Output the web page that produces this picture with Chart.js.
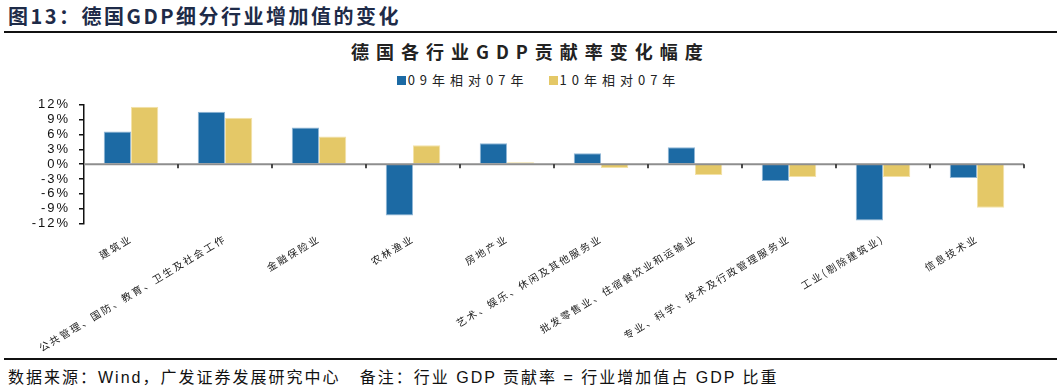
<!DOCTYPE html>
<html>
<head>
<meta charset="utf-8">
<script src="https://cdn.jsdelivr.net/npm/chart.js@4"></script>
<style>
  html, body { margin: 0; padding: 0; background: #fff; }
  body { width: 1061px; height: 392px; position: relative; overflow: hidden; font-family: "Noto Sans CJK SC", "Liberation Sans", sans-serif; }
  #head { position: absolute; left: 8px; top: 1px; font-size: 20px; font-weight: bold; color: #1e2b48; letter-spacing: 2.5px; white-space: nowrap; }
  .rule { position: absolute; left: 4px; width: 1053px; height: 2px; background: #111; }
  #chartTitle { position: absolute; left: 0; width: 1061px; top: 38px; text-align: center; font-size: 18px; font-weight: bold; color: #222; letter-spacing: 7px; white-space: nowrap; }
  #legend { position: absolute; left: 8px; width: 1061px; top: 70px; text-align: center; font-size: 13px; color: #222; letter-spacing: 5px; white-space: nowrap; }
  #legend span.item { display: inline-block; margin: 0 10px; }
  #legend i { display: inline-block; width: 9px; height: 9px; margin-right: 2px; vertical-align: 0px; }
  #box { position: absolute; left: 0; top: 88px; width: 1061px; height: 267px; }
  #foot { position: absolute; left: 8px; top: 364px; font-size: 16px; color: #111; letter-spacing: 2px; white-space: nowrap; font-family: "Liberation Sans", "Noto Sans CJK SC", sans-serif; }
</style>
</head>
<body>
<div id="head">图13：德国GDP细分行业增加值的变化</div>
<div class="rule" style="top:31px"></div>
<div id="chartTitle">德国各行业GDP贡献率变化幅度</div>
<div id="legend"></div>
<div id="box"><canvas id="chart"></canvas></div>
<div class="rule" style="top:358px"></div>
<div id="foot">数据来源：Wind，广发证券发展研究中心&nbsp;&nbsp;&nbsp;备注：行业 GDP 贡献率 = 行业增加值占 GDP 比重</div>
<script>
const categories = [
  '建筑业',
  '公共管理、国防、教育、卫生及社会工作',
  '金融保险业',
  '农林渔业',
  '房地产业',
  '艺术、娱乐、休闲及其他服务业',
  '批发零售业、住宿餐饮业和运输业',
  '专业、科学、技术及行政管理服务业',
  '工业(剔除建筑业)',
  '信息技术业'
];
const seriesNames = ['09年相对07年', '10年相对07年'];
const series09 = [6.6, 10.6, 7.4, -10.4, 4.2, 2.2, 3.4, -3.4, -11.4, -2.8];
const series10 = [11.6, 9.4, 5.6, 3.8, 0.4, -0.8, -2.2, -2.6, -2.6, -8.8];
const yTicks = [-12, -9, -6, -3, 0, 3, 6, 9, 12];
const colors = ['#1c6aa4', '#e4c867'];

// html legend (wide letter spacing like the source)
document.getElementById('legend').innerHTML = seriesNames.map((n, i) =>
  `<span class="item"><i style="background:${colors[i]}"></i>${n}</span>`).join('');

const spacing = {
  id: 'spacing',
  beforeLayout(c) { c.ctx.letterSpacing = '2px'; },
  beforeDraw(c) { c.ctx.letterSpacing = '2px'; }
};

// zero line with small ticks at the category boundaries
const zeroLine = {
  id: 'zeroLine',
  afterDatasetsDraw(c) {
    const { ctx, scales: { x, y } } = c;
    const y0 = y.getPixelForValue(0);
    const step = (x.right - x.left) / categories.length;
    ctx.save();
    ctx.strokeStyle = '#8e8e8e';
    ctx.lineWidth = 2;
    ctx.beginPath();
    ctx.moveTo(x.left, y0);
    ctx.lineTo(x.right, y0);
    ctx.stroke();
    ctx.strokeStyle = '#111';
    ctx.lineWidth = 1.5;
    for (let i = 0; i < categories.length; i++) {
      const px = x.getPixelForValue(i) + step / 2;
      ctx.beginPath();
      ctx.moveTo(px, y0);
      ctx.lineTo(px, y0 + 4);
      ctx.stroke();
    }
    ctx.restore();
  }
};

new Chart(document.getElementById('chart'), {
  type: 'bar',
  data: {
    labels: categories,
    datasets: [
      { label: seriesNames[0], data: series09, backgroundColor: colors[0], borderColor: '#8fb6d6', borderWidth: 1 },
      { label: seriesNames[1], data: series10, backgroundColor: colors[1], borderColor: '#f3e2a8', borderWidth: 1 }
    ]
  },
  options: {
    responsive: true,
    maintainAspectRatio: false,
    animation: false,
    categoryPercentage: 0.58,
    barPercentage: 1,
    layout: { padding: { left: 0, right: 37, top: 0, bottom: 0 } },
    plugins: {
      legend: { display: false },
      title: { display: false },
      tooltip: { enabled: false }
    },
    scales: {
      x: {
        grid: { display: false },
        border: { display: false },
        ticks: {
          autoSkip: false,
          minRotation: 31,
          maxRotation: 31,
          padding: 1,
          color: '#222',
          font: { family: 'Noto Sans CJK SC', size: 10 }
        }
      },
      y: {
        min: -12,
        max: 12,
        afterFit(scale) { scale.width = 84; },
        afterBuildTicks(scale) { scale.ticks = yTicks.map(v => ({ value: v })); },
        grid: { drawOnChartArea: false, drawTicks: true, tickLength: 5, color: '#111', lineWidth: 1.5 },
        border: { display: true, color: '#111', width: 1.5 },
        ticks: {
          autoSkip: false,
          padding: 9,
          color: '#111',
          font: { family: 'Liberation Sans', size: 13 },
          callback: v => v + '%'
        }
      }
    }
  },
  plugins: [spacing, zeroLine]
});
</script>
</body>
</html>
